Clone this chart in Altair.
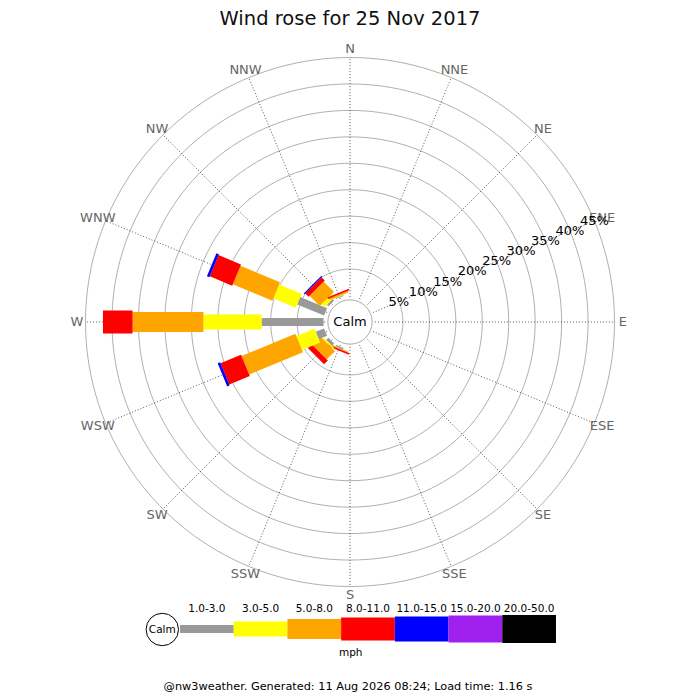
import altair as alt
import pandas as pd

# ---------------- data ----------------
directions = ["N", "NNE", "NE", "ENE", "E", "ESE", "SE", "SSE",
              "S", "SSW", "SW", "WSW", "W", "WNW", "NW", "NNW"]
speed_bins = ["1.0-3.0", "3.0-5.0", "5.0-8.0", "8.0-11.0",
              "11.0-15.0", "15.0-20.0", "20.0-50.0"]
bin_colors = ["#999999", "#ffff00", "#ffa500", "#ff0000",
              "#0000ff", "#a020f0", "#000000"]
bin_widths = [8, 15, 20, 23, 25, 27, 28]

#               N  NNE NE ENE E ESE SE SSE S  SSW  SW   WSW   W     WNW  NW   NNW
pct_1_3   = [0, 0, 0, 0, 0, 0, 0, 0, 0, 0.3, 0.6, 1.7, 11.7, 5.5, 0.4, 0.2]
pct_3_5   = [0, 0, 0, 0, 0, 0, 0, 0, 0, 0.0, 0.3, 3.7, 11.0, 4.6, 0.8, 0.1]
pct_5_8   = [0, 0, 0, 0, 0, 0, 0, 0, 0, 0.2, 2.2, 11.0, 13.4, 8.1, 2.7, 0.3]
pct_8_11  = [0, 0, 0, 0, 0, 0, 0, 0, 0, 0.3, 1.0, 4.2, 5.6, 4.6, 0.9, 0.3]
pct_11_15 = [0, 0, 0, 0, 0, 0, 0, 0, 0, 0.0, 0.0, 0.5, 0.0, 0.5, 0.2, 0.0]
pct_15_20 = [0] * 16
pct_20_50 = [0] * 16
series = [pct_1_3, pct_3_5, pct_5_8, pct_8_11, pct_11_15, pct_15_20, pct_20_50]

rings = [5, 10, 15, 20, 25, 30, 35, 40, 45]
ring_labels = [f"{r}%" for r in rings]

title_text = "Wind rose for 25 Nov 2017"
footer_text = "@nw3weather. Generated: 11 Aug 2026 08:24; Load time: 1.16 s"
unit_text = "mph"

# ---------------- layout constants ----------------
W, H = 684, 684
CX, CY = 342, 314          # centre of the rose (px from top-left of chart)
K = 5.29                   # px per percent
R0 = 5.0                   # calm offset (in percent units)
R_OUT = R0 + rings[-1]
R_LAB = 51.6
PCT_ANGLE = 67.5           # compass angle of the % labels (ENE)
FONT = "DejaVu Sans"

def px_to_u(px):
    return (px - CX) / K

def py_to_v(py):
    return (CY - py) / K

LX0 = px_to_u(172)
LSTEP = 53.71 / K
LY = py_to_v(621)
LLAB = py_to_v(603.7)

xs = alt.Scale(domain=[-CX / K, (W - CX) / K], nice=False, zero=False)
ys = alt.Scale(domain=[-(H - CY) / K, CY / K], nice=False, zero=False)

def X(f):
    return alt.X(f, type="quantitative", scale=xs, axis=None)

def Y(f):
    return alt.Y(f, type="quantitative", scale=ys, axis=None)

# ---------------- tables ----------------
rows = []
for di, d in enumerate(directions):
    cum = 0.0
    for bi, b in enumerate(speed_bins):
        v = series[bi][di]
        if v > 0:
            rows.append(dict(dir=d, idx=di, bin=b, start=cum, end=cum + v))
        cum += v
bars_df = pd.DataFrame(rows)

ring_rows = []
for r in rings:
    for deg in range(0, 361, 2):
        ring_rows.append(dict(ring=r, deg=deg))
rings_df = pd.DataFrame(ring_rows)

dir_df = pd.DataFrame(dict(dir=directions, idx=list(range(len(directions)))))
pct_df = pd.DataFrame(dict(ring=rings, label=ring_labels))
leg_df = pd.DataFrame(dict(bin=speed_bins, i=list(range(len(speed_bins)))))
calm_df = pd.DataFrame(dict(x=[0.0], y=[0.0], label=["Calm"]))
leg_calm_df = pd.DataFrame(dict(x=[px_to_u(154.3)], y=[py_to_v(621.5)], label=["Calm"]))
unit_df = pd.DataFrame(dict(x=[px_to_u(342.7)], y=[py_to_v(647.5)], label=[unit_text]))

color_scale = alt.Scale(domain=speed_bins, range=bin_colors)
width_scale = alt.Scale(type="ordinal", domain=speed_bins, range=bin_widths)

# ---------------- layers ----------------
ring_layer = alt.Chart(rings_df).transform_calculate(
    rr=f"{R0} + datum.ring",
    x="datum.rr * sin(datum.deg * PI / 180)",
    y="datum.rr * cos(datum.deg * PI / 180)",
).mark_line(color="#b0b0b0", strokeWidth=1).encode(
    x=X("x"), y=Y("y"), detail="ring:N", order="deg:Q"
)

spoke_layer = alt.Chart(dir_df).transform_calculate(
    a="datum.idx * PI / 8",
    x0="4.7 * sin(datum.a)", y0="4.7 * cos(datum.a)",
    x1=f"{R_OUT} * sin(datum.a)", y1=f"{R_OUT} * cos(datum.a)",
).mark_rule(color="#444444", strokeWidth=0.9, strokeDash=[1, 2]).encode(
    x=X("x0"), y=Y("y0"), x2="x1:Q", y2="y1:Q"
)

bar_layer = alt.Chart(bars_df).transform_calculate(
    a="datum.idx * PI / 8",
    r0=f"{R0} + datum.start", r1=f"{R0} + datum.end",
    x0="datum.r0 * sin(datum.a)", y0="datum.r0 * cos(datum.a)",
    x1="datum.r1 * sin(datum.a)", y1="datum.r1 * cos(datum.a)",
).mark_rule(strokeCap="butt", opacity=1).encode(
    x=X("x0"), y=Y("y0"), x2="x1:Q", y2="y1:Q",
    color=alt.Color("bin:N", scale=color_scale, legend=None),
    strokeWidth=alt.StrokeWidth("bin:N", scale=width_scale, legend=None),
)

calm_circle = alt.Chart(calm_df).mark_point(
    shape="circle", size=1963, filled=True, fill="white", stroke="#aaaaaa",
    strokeWidth=1, opacity=1
).encode(x=X("x"), y=Y("y"))

calm_text = alt.Chart(calm_df).mark_text(
    font=FONT, fontSize=13, color="black", align="center", baseline="middle"
).encode(x=X("x"), y=Y("y"), text="label:N")

dir_labels = alt.Chart(dir_df).transform_calculate(
    a="datum.idx * PI / 8",
    x=f"{R_LAB} * sin(datum.a)", y=f"{R_LAB} * cos(datum.a)",
).mark_text(font=FONT, fontSize=13, color="#666666", align="center",
            baseline="middle").encode(x=X("x"), y=Y("y"), text="dir:N")

pct_labels = alt.Chart(pct_df).transform_calculate(
    rr=f"{R0} + datum.ring",
    x=f"datum.rr * sin({PCT_ANGLE} * PI / 180)",
    y=f"datum.rr * cos({PCT_ANGLE} * PI / 180)",
).mark_text(font=FONT, fontSize=13, color="black", align="center",
            baseline="middle").encode(x=X("x"), y=Y("y"), text="label:N")

leg_bars = alt.Chart(leg_df).transform_calculate(
    x0=f"{LX0} + datum.i * {LSTEP}", x1=f"{LX0} + (datum.i + 1) * {LSTEP}",
    y=f"{LY}",
).mark_rule(strokeCap="butt", opacity=1).encode(
    x=X("x0"), x2="x1:Q", y=Y("y"),
    color=alt.Color("bin:N", scale=color_scale, legend=None),
    strokeWidth=alt.StrokeWidth("bin:N", scale=width_scale, legend=None),
)

leg_labels = alt.Chart(leg_df).transform_calculate(
    x=f"{LX0} + (datum.i + 0.5) * {LSTEP}", y=f"{LLAB}",
).mark_text(font=FONT, fontSize=10.5, color="black", align="center",
            baseline="alphabetic").encode(x=X("x"), y=Y("y"), text="bin:N")

leg_circle = alt.Chart(leg_calm_df).mark_point(
    shape="circle", size=1050, filled=True, fill="white", stroke="black",
    strokeWidth=1, opacity=1
).encode(x=X("x"), y=Y("y"))

leg_calm_text = alt.Chart(leg_calm_df).mark_text(
    font=FONT, fontSize=10.5, color="black", align="center", baseline="middle"
).encode(x=X("x"), y=Y("y"), text="label:N")

unit_label = alt.Chart(unit_df).mark_text(
    font=FONT, fontSize=10.5, color="black", align="center", baseline="alphabetic"
).encode(x=X("x"), y=Y("y"), text="label:N")

title_layer = alt.Chart(pd.DataFrame(dict(t=[title_text]))).mark_text(
    font=FONT, fontSize=19.5, color="#111111", align="center", baseline="alphabetic"
).encode(x=alt.value(342), y=alt.value(17), text="t:N")

footer_layer = alt.Chart(pd.DataFrame(dict(t=[footer_text]))).mark_text(
    font=FONT, fontSize=11.3, color="black", align="center", baseline="alphabetic"
).encode(x=alt.value(340), y=alt.value(682), text="t:N")

chart = alt.layer(
    ring_layer, spoke_layer, bar_layer, calm_circle, calm_text,
    dir_labels, pct_labels, leg_bars, leg_circle, leg_calm_text,
    leg_labels, unit_label, title_layer, footer_layer,
).properties(
    width=W, height=H, padding=0,
    autosize=alt.AutoSizeParams(type="none"),
).configure_view(strokeWidth=0)

chart.save("out.html", embed_options={"renderer": "svg", "actions": False})
